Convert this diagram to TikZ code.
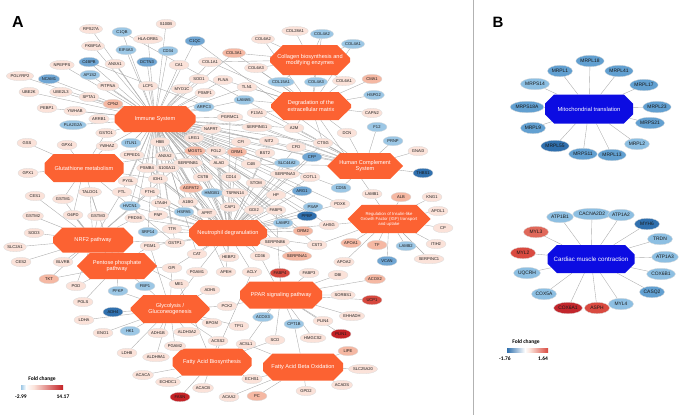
\documentclass[tikz,border=0pt]{standalone}
\usepackage{fontspec}
\setmainfont{Liberation Sans}
\newfontfamily\legendfont{Carlito}
\usetikzlibrary{positioning,shapes.geometric,shapes.misc,backgrounds}
\definecolor{fcpk}{RGB}{251,226,217}
\definecolor{fcsa}{RGB}{245,184,163}
\definecolor{fclb}{RGB}{156,199,229}
\definecolor{fcmb}{RGB}{112,166,211}
\definecolor{fcdb}{RGB}{48,112,174}
\definecolor{fcrd}{RGB}{214,72,62}
\definecolor{fcdr}{RGB}{196,34,38}
\definecolor{hubred}{RGB}{252,98,50}
\definecolor{hubblue}{RGB}{12,12,226}
\definecolor{bbl}{RGB}{141,191,226}
\definecolor{bmb}{RGB}{98,160,209}
\definecolor{bdb}{RGB}{48,112,174}
\definecolor{bsa}{RGB}{224,104,90}
\definecolor{brd}{RGB}{217,74,64}
\definecolor{bdr}{RGB}{194,38,44}

\begin{document}
\begin{tikzpicture}[x=1pt,y=-1pt,
    gene/.style={ellipse,draw=black!14,line width=0.3pt,inner sep=0.4pt,minimum width=20pt,minimum height=9.5pt,
                 font=\fontsize{4.1}{4.6}\selectfont,text=black!90},
    pk/.style={gene,fill=fcpk}, sa/.style={gene,fill=fcsa}, lb/.style={gene,fill=fclb},
    mb/.style={gene,fill=fcmb}, db/.style={gene,fill=fcdb}, rd/.style={gene,fill=fcrd}, dr/.style={gene,fill=fcdr},
    bgene/.style={ellipse,draw=black!14,line width=0.3pt,inner sep=0.5pt,minimum width=25pt,minimum height=11.5pt,
                 font=\fontsize{4.9}{5.5}\selectfont,text=black!90},
    hub/.style 2 args={chamfered rectangle,chamfered rectangle xsep=11pt,chamfered rectangle ysep=7pt,
                 minimum width=#1,minimum height=#2,inner sep=0pt,fill=hubred,text=white,align=center,
                 font=\fontsize{5.6}{6.4}\selectfont},
    link/.style={draw=gray!65,line width=0.38pt}
  ]
\useasboundingbox (0,0) rectangle (685,415);

% panel labels and divider
\node[font=\bfseries\fontsize{16}{16}\selectfont] (labA) at (18,22) {A};
\node[font=\bfseries\fontsize{15}{15}\selectfont] (labB) at (498,22) {B};
\draw[gray!60,line width=0.5pt] (473,0) -- (473,415);

% pathway hubs, panel A
\node[hub={81pt}{26pt}] (imm) at (155,119) {Immune System};
\node[hub={80pt}{30pt}] (col) at (310,60) {Collagen biosynthesis and\\modifying enzymes};
\node[hub={80pt}{28pt}] (ecm) at (311,106) {Degradation of the\\extracellular matrix};
\node[hub={76pt}{25pt}] (cmp) at (365,166) {Human Complement\\System};
\node[hub={83pt}{27pt},font=\fontsize{4.3}{5}\selectfont] (igf) at (389,219) {Regulation of Insulin-like\\Growth Factor (IGF) transport\\and uptake};
\node[hub={79pt}{28pt}] (glu) at (84,168) {Glutathione metabolism};
\node[hub={80pt}{25pt}] (nrf) at (93,240) {NRF2 pathway};
\node[hub={78pt}{26pt}] (neu) at (228,233) {Neutrophil degranulation};
\node[hub={80pt}{26pt}] (ppp) at (117,266) {Pentose phosphate\\pathway};
\node[hub={79pt}{28pt}] (gly) at (170,309) {Glycolysis /\\Gluconeogenesis};
\node[hub={82pt}{27pt}] (ppar) at (281,295) {PPAR signaling pathway};
\node[hub={79pt}{27pt}] (fab) at (212,362) {Fatty Acid Biosynthesis};
\node[hub={80pt}{27pt}] (fao) at (303,367) {Fatty Acid Beta Oxidation};

% genes, top left
\node[pk] (RPS27A) at (91,29) {RPS27A};
\node[lb] (C1QB) at (122,32) {C1QB};
\node[pk] (S100B) at (166,24) {S100B};
\node[pk] (HLADRB1) at (148,39) {HLA-DRB1};
\node[pk] (FKBP1A) at (93,46) {FKBP1A};
\node[lb] (EIF4A3) at (126,50) {EIF4A3};
\node[lb] (CD34) at (168,51) {CD34};
\node[mb] (C1QC) at (195,41) {C1QC};
\node[pk] (NPEPPS) at (62,65) {NPEPPS};
\node[mb] (C4BPB) at (89,62) {C4BPB};
\node[pk] (ANXA1) at (115,64) {ANXA1};
\node[mb] (DCTN3) at (147,62) {DCTN3};
\node[pk] (CA1) at (179,65) {CA1};
\node[pk] (PGLYRP2) at (20,76) {PGLYRP2};
\node[mb] (NCAM1) at (49,79) {NCAM1};
\node[lb] (AP1S2) at (90,75) {AP1S2};
\node[pk] (PITPNA) at (108,86) {PITPNA};
\node[pk] (LCP1) at (148,86) {LCP1};
\node[pk] (UBE2K) at (29,92) {UBE2K};
\node[pk] (UBE2L3) at (61,92) {UBE2L3};
\node[pk] (SPTA1) at (89,97) {SPTA1};
\node[sa] (CPN2) at (113,104) {CPN2};
\node[pk] (PEBP1) at (47,108) {PEBP1};
\node[pk] (YWHAB) at (75,111) {YWHAB};
\node[pk] (ARRB1) at (99,119) {ARRB1};
\node[lb] (PLA2G2A) at (73,125) {PLA2G2A};
\node[pk] (GSTO1) at (106,133) {GSTO1};

% genes, top middle
\node[pk] (COL6A2) at (263,39) {COL6A2};
\node[pk] (COL28A1) at (295,31) {COL28A1};
\node[lb] (COL4A2) at (322,34) {COL4A2};
\node[lb] (COL4A1) at (353,44) {COL4A1};
\node[sa] (COL3A1) at (234,53) {COL3A1};
\node[pk] (COL1A1) at (210,62) {COL1A1};
\node[pk] (COL6A3) at (256,68) {COL6A3};
\node[pk] (SOD1) at (199,79) {SOD1};
\node[pk] (FLNA) at (223,80) {FLNA};
\node[lb] (COL15A1) at (281,82) {COL15A1};
\node[lb] (COL4A3) at (316,82) {COL4A3};
\node[pk] (COL6A1) at (344,81) {COL6A1};
\node[sa] (CMA1) at (372,79) {CMA1};
\node[pk] (MYO1C) at (182,89) {MYO1C};
\node[pk] (PSMF1) at (205,93) {PSMF1};
\node[pk] (TLN1) at (247,87) {TLN1};
\node[lb] (HSPG2) at (374,95) {HSPG2};
\node[lb] (ARPC3) at (204,107) {ARPC3};
\node[lb] (LAMA5) at (244,100) {LAMA5};
\node[pk] (CAPN2) at (372,113) {CAPN2};
\node[pk] (PGRMC1) at (230,117) {PGRMC1};
\node[pk] (F13A1) at (257,113) {F13A1};
\node[pk] (SERPING1) at (257,127) {SERPING1};
\node[pk] (A2M) at (294,128) {A2M};
\node[pk] (NAPRT) at (211,129) {NAPRT};
\node[pk] (LRG1) at (194,138) {LRG1};
\node[pk] (DCN) at (347,133) {DCN};
\node[lb] (F12) at (377,127) {F12};
\node[lb] (PRNP) at (393,141) {PRNP};

% genes, right
\node[pk] (CTSG) at (323,143) {CTSG};
\node[pk] (GNAI3) at (418,151) {GNAI3};
\node[mb] (CFP) at (312,157) {CFP};
\node[db] (THBS1) at (423,173) {THBS1};
\node[pk] (COTL1) at (310,177) {COTL1};
\node[lb] (CD55) at (341,188) {CD55};
\node[pk] (LAMB1) at (372,194) {LAMB1};
\node[sa] (ALB) at (401,197) {ALB};
\node[pk] (KNG1) at (432,197) {KNG1};
\node[lb] (PSAP) at (313,207) {PSAP};
\node[pk] (PDXK) at (340,204) {PDXK};
\node[pk] (APOL1) at (438,211) {APOL1};
\node[db] (PPBP) at (307,216) {PPBP};
\node[pk] (AHSG) at (329,225) {AHSG};
\node[pk] (CP) at (443,228) {CP};
\node[sa] (ORM2) at (303,231) {ORM2};
\node[pk] (CST3) at (317,245) {CST3};
\node[sa] (APOA1) at (351,243) {APOA1};
\node[sa] (TF) at (377,245) {TF};
\node[lb] (LAMB2) at (406,246) {LAMB2};
\node[pk] (ITIH2) at (436,244) {ITIH2};
\node[pk] (APOA2) at (344,262) {APOA2};
\node[mb] (VCAN) at (387,261) {VCAN};
\node[pk] (SERPINC1) at (429,259) {SERPINC1};
\node[mb] (ARG1) at (302,191) {ARG1};
\node[lb] (SLC44A2) at (287,163) {SLC44A2};

% genes, centre
\node[pk] (HBB) at (160,142) {HBB};
\node[pk] (CFI) at (241,142) {CFI};
\node[pk] (NIT2) at (269,141) {NIT2};
\node[pk] (CFD) at (296,147) {CFD};
\node[sa] (MGST1) at (195,151) {MGST1};
\node[pk] (FGL2) at (216,151) {FGL2};
\node[sa] (ORM1) at (237,152) {ORM1};
\node[pk] (ANXA2) at (165,156) {ANXA2};
\node[pk] (BST2) at (265,153) {BST2};
\node[pk] (SERPINB1) at (188,163) {SERPINB1};
\node[pk] (S100A11) at (167,168) {S100A11};
\node[pk] (ALAD) at (219,163) {ALAD};
\node[pk] (C4B) at (251,164) {C4B};
\node[pk] (SERPINA3) at (285,174) {SERPINA3};
\node[pk] (IDH1) at (158,179) {IDH1};
\node[pk] (CSTB) at (203,177) {CSTB};
\node[pk] (CD14) at (231,177) {CD14};
\node[pk] (STOM) at (256,183) {STOM};
\node[sa] (AGPAT2) at (191,188) {AGPAT2};
\node[lb] (HMGB1) at (212,193) {HMGB1};
\node[pk] (TSPAN14) at (235,193) {TSPAN14};
\node[pk] (HP) at (276,195) {HP};
\node[pk] (A1BG) at (188,202) {A1BG};
\node[lb] (HSPA5) at (184,212) {HSPA5};
\node[pk] (APRT) at (207,213) {APRT};
\node[pk] (CAP1) at (230,207) {CAP1};
\node[pk] (GDI2) at (254,210) {GDI2};
\node[pk] (FABP5) at (276,210) {FABP5};
\node[lb] (LAMP2) at (283,223) {LAMP2};
\node[pk] (PNP) at (158,215) {PNP};
\node[pk] (TTR) at (172,229) {TTR};
\node[lb] (SRP14) at (148,232) {SRP14};
\node[pk] (GSTP1) at (175,243) {GSTP1};
\node[pk] (PGM1) at (150,246) {PGM1};
\node[pk] (SERPINB6) at (275,242) {SERPINB6};
\node[pk] (CAT) at (197,254) {CAT};
\node[pk] (HEBP2) at (229,257) {HEBP2};
\node[pk] (CD36) at (260,256) {CD36};
\node[sa] (SERPINA1) at (297,256) {SERPINA1};
\node[pk] (GPI) at (172,268) {GPI};
\node[pk] (PGAM1) at (197,272) {PGAM1};
\node[pk] (ME1) at (179,284) {ME1};
\node[pk] (APEH) at (226,272) {APEH};
\node[pk] (ACLY) at (252,272) {ACLY};
\node[rd] (FABP4) at (280,273) {FABP4};
\node[pk] (FABP3) at (309,273) {FABP3};
\node[pk] (DBI) at (338,275) {DBI};
\node[sa] (ACOX2) at (375,279) {ACOX2};

% genes, left
\node[pk] (GSS) at (27,143) {GSS};
\node[pk] (GPX4) at (67,145) {GPX4};
\node[pk] (YWHAZ) at (107,146) {YWHAZ};
\node[lb] (ITLN1) at (131,143) {ITLN1};
\node[pk] (CPPED1) at (132,155) {CPPED1};
\node[pk] (PSMB4) at (147,168) {PSMB4};
\node[pk] (GPX1) at (28,173) {GPX1};
\node[pk] (PYGL) at (128,181) {PYGL};
\node[pk] (CES1) at (35,196) {CES1};
\node[pk] (GSTM1) at (63,199) {GSTM1};
\node[pk] (TALDO1) at (90,192) {TALDO1};
\node[pk] (FTL) at (122,192) {FTL};
\node[pk] (FTH1) at (150,192) {FTH1};
\node[pk] (LTA4H) at (161,203) {LTA4H};
\node[pk] (GSTM2) at (33,216) {GSTM2};
\node[pk] (G6PD) at (73,215) {G6PD};
\node[pk] (GSTM3) at (98,216) {GSTM3};
\node[lb] (HVCN1) at (130,206) {HVCN1};
\node[pk] (PRDX6) at (135,218) {PRDX6};
\node[pk] (SOD3) at (34,233) {SOD3};
\node[pk] (SLC2A1) at (15,247) {SLC2A1};
\node[pk] (CES2) at (21,262) {CES2};
\node[pk] (BLVRB) at (63,262) {BLVRB};

% genes, bottom
\node[sa] (TKT) at (49,279) {TKT};
\node[pk] (PGD) at (76,286) {PGD};
\node[lb] (PFKP) at (118,291) {PFKP};
\node[lb] (FBP1) at (145,286) {FBP1};
\node[pk] (PGLS) at (83,302) {PGLS};
\node[db] (ADH4) at (113,312) {ADH4};
\node[pk] (LDHA) at (84,320) {LDHA};
\node[pk] (ENO1) at (103,333) {ENO1};
\node[lb] (HK1) at (130,331) {HK1};
\node[pk] (LDHB) at (127,353) {LDHB};
\node[pk] (ADH1B) at (158,333) {ADH1B};
\node[pk] (ALDH3A2) at (187,332) {ALDH3A2};
\node[pk] (PGAM2) at (175,346) {PGAM2};
\node[pk] (ALDH9A1) at (156,357) {ALDH9A1};
\node[pk] (ADH5) at (210,290) {ADH5};
\node[pk] (PCK2) at (227,306) {PCK2};
\node[pk] (BPGM) at (212,323) {BPGM};
\node[pk] (TPI1) at (239,326) {TPI1};
\node[lb] (ACOX3) at (263,317) {ACOX3};
\node[lb] (CPT1B) at (294,324) {CPT1B};
\node[pk] (SORBS1) at (343,295) {SORBS1};
\node[rd] (UCP1) at (372,300) {UCP1};
\node[pk] (EHHADH) at (352,316) {EHHADH};
\node[pk] (PLIN4) at (323,321) {PLIN4};
\node[dr] (PLIN1) at (341,334) {PLIN1};
\node[pk] (HMGCS2) at (313,338) {HMGCS2};
\node[pk] (ACSS2) at (218,341) {ACSS2};
\node[pk] (ACSL1) at (246,344) {ACSL1};
\node[pk] (SCD) at (275,340) {SCD};
\node[sa] (LIPE) at (348,351) {LIPE};
\node[pk] (SLC25A20) at (363,369) {SLC25A20};
\node[pk] (ACACA) at (143,375) {ACACA};
\node[pk] (ECHDC1) at (168,382) {ECHDC1};
\node[pk] (ACACB) at (203,388) {ACACB};
\node[pk] (ECHS1) at (252,379) {ECHS1};
\node[pk] (ACADS) at (342,385) {ACADS};
\node[pk] (GPD2) at (306,391) {GPD2};
\node[dr] (FASN) at (180,397) {FASN};
\node[pk] (ACAA2) at (229,397) {ACAA2};
\node[sa] (PC) at (257,396) {PC};

% legend A
\node[font=\legendfont\bfseries\fontsize{5.5}{6}\selectfont] (fcA) at (42,379) {Fold change};
\shade[left color=fclb,right color=white] (21,385) rectangle (26,389);
\shade[left color=white,right color=fcpk] (26,385) rectangle (34,389);
\shade[left color=fcpk,right color=fcdr] (34,385) rectangle (63,389);
\node[font=\legendfont\bfseries\fontsize{5.5}{6}\selectfont] (minA) at (21,397) {-2.99};
\node[font=\legendfont\bfseries\fontsize{5.5}{6}\selectfont] (maxA) at (63,397) {14.17};

% panel B
\node[hub={88pt}{29pt},fill=hubblue,font=\fontsize{5.8}{6.4}\selectfont] (mito) at (589,109) {Mitochondrial translation};
\node[bgene,fill=bmb] (MRPL18) at (590,61) {MRPL18};
\node[bgene,fill=bmb] (MRPL1) at (560,71) {MRPL1};
\node[bgene,fill=bmb] (MRPL41) at (619,71) {MRPL41};
\node[bgene,fill=bbl] (MRPS14) at (535,84) {MRPS14};
\node[bgene,fill=bmb] (MRPL17) at (644,85) {MRPL17};
\node[bgene,fill=bmb] (MRPS18A) at (527,107) {MRPS18A};
\node[bgene,fill=bmb] (MRPL23) at (657,107) {MRPL23};
\node[bgene,fill=bmb] (MRPL9) at (533,128) {MRPL9};
\node[bgene,fill=bmb] (MRPS21) at (650,123) {MRPS21};
\node[bgene,fill=bdb] (MRPL55) at (555,146) {MRPL55};
\node[bgene,fill=bbl] (MRPL2) at (637,144) {MRPL2};
\node[bgene,fill=bmb] (MRPS11) at (583,154) {MRPS11};
\node[bgene,fill=bmb] (MRPL13) at (612,155) {MRPL13};

\node[hub={87pt}{28pt},fill=hubblue,font=\fontsize{6.2}{7}\selectfont] (card) at (591,259) {Cardiac muscle contraction};
\node[bgene,fill=bbl] (ATP1B1) at (560,217) {ATP1B1};
\node[bgene,fill=bbl] (CACNA2D2) at (592,214) {CACNA2D2};
\node[bgene,fill=bbl] (ATP1A2) at (621,215) {ATP1A2};
\node[bgene,fill=bdb] (MYH6) at (647,224) {MYH6};
\node[bgene,fill=bsa] (MYL3) at (536,232) {MYL3};
\node[bgene,fill=bbl] (TRDN) at (660,239) {TRDN};
\node[bgene,fill=brd] (MYL2) at (523,253) {MYL2};
\node[bgene,fill=bbl] (ATP1A3) at (665,257) {ATP1A3};
\node[bgene,fill=bbl] (UQCRH) at (527,273) {UQCRH};
\node[bgene,fill=bbl] (COX6B1) at (661,274) {COX6B1};
\node[bgene,fill=bbl] (COX5A) at (544,294) {COX5A};
\node[bgene,fill=bmb] (CASQ2) at (652,292) {CASQ2};
\node[bgene,fill=bdr] (COX6A1) at (568,308) {COX6A1};
\node[bgene,fill=brd] (ASPH) at (597,308) {ASPH};
\node[bgene,fill=bbl] (MYL4) at (621,304) {MYL4};

% legend B
\node[font=\legendfont\bfseries\fontsize{5.5}{6}\selectfont] (fcB) at (526,342) {Fold change};
\shade[left color=bdb,right color=white] (507,348) rectangle (525,352);
\shade[left color=white,right color=fcpk] (525,348) rectangle (530,352);
\shade[left color=fcpk,right color=brd] (530,348) rectangle (548,352);
\node[font=\legendfont\bfseries\fontsize{5.5}{6}\selectfont] (minB) at (505,359) {-1.76};
\node[font=\legendfont\bfseries\fontsize{5.5}{6}\selectfont] (maxB) at (543,359) {1.64};

% connectors
\begin{scope}[on background layer,every edge/.style={link}]
  \foreach \g in {RPS27A,C1QB,S100B,HLADRB1,FKBP1A,EIF4A3,CD34,C1QC,NPEPPS,C4BPB,ANXA1,DCTN3,CA1,
      PGLYRP2,NCAM1,AP1S2,PITPNA,LCP1,UBE2K,UBE2L3,SPTA1,CPN2,PEBP1,YWHAB,ARRB1,PLA2G2A,GSTO1,
      COL1A1,COL3A1,SOD1,FLNA,MYO1C,PSMF1,ARPC3,LAMA5,TLN1,PGRMC1,NAPRT,LRG1,SERPING1,A2M,YWHAZ,
      ITLN1,CPPED1,PSMB4,HBB,ANXA2,S100A11,SERPINB1,MGST1,FGL2,ORM1,ALAD,CFI,NIT2,CFD,BST2,C4B,
      SERPINA3,CSTB,CD14,STOM,HP,IDH1,PYGL,FTL,FTH1,LTA4H,AGPAT2,HMGB1,TSPAN14,A1BG,HSPA5,APRT,
      CAP1,GDI2,FABP5,ARG1,SLC44A2,CFP,CTSG,COTL1,PSAP,PPBP,LAMP2,PNP,TTR,SRP14,GSTP1,PRDX6,
      HVCN1,ORM2,SERPINB6,CST3,CAT,HEBP2,CD36,SERPINA1,APEH,AHSG,PDXK,CD55}
    \path (imm) edge (\g);
  \foreach \g in {HBB,LRG1,NAPRT,PGRMC1,ANXA2,S100A11,SERPINB1,MGST1,FGL2,ORM1,ALAD,CFD,NIT2,BST2,
      STOM,SERPINA3,HP,CSTB,CD14,IDH1,PYGL,FTL,FTH1,LTA4H,AGPAT2,HMGB1,TSPAN14,A1BG,HSPA5,APRT,
      CAP1,GDI2,FABP5,ARG1,SLC44A2,CFP,CTSG,COTL1,PSAP,PPBP,LAMP2,PNP,TTR,SRP14,GSTP1,PRDX6,
      HVCN1,ORM2,SERPINB6,CST3,CAT,HEBP2,CD36,SERPINA1,GPI,PGAM1,APEH,PGM1,AHSG,PDXK,CPPED1,
      PSMB4,ACLY}
    \path (neu) edge (\g);
  \foreach \g in {C1QB,C1QC,C4BPB,CPN2,F13A1,SERPING1,A2M,F12,CFD,CFI,C4B,CFP,CD55,PRNP,GNAI3,
      THBS1,CTSG,DCN}
    \path (cmp) edge (\g);
  \foreach \g in {COL6A2,COL28A1,COL4A2,COL4A1,COL3A1,COL1A1,COL6A3,COL15A1,COL4A3,COL6A1}
    \path (col) edge (\g);
  \foreach \g in {COL4A3,COL6A1,CMA1,HSPG2,CAPN2,DCN,A2M,COL15A1,COL6A3,COL6A2,LAMA5,TLN1,
      COL3A1,COL1A1,COL4A1,COL4A2,CTSG,LAMB1,FLNA,F13A1}
    \path (ecm) edge (\g);
  \foreach \g in {ALB,KNG1,APOL1,CP,ITIH2,SERPINC1,VCAN,LAMB2,LAMB1,TF,APOA1,APOA2,AHSG,CST3}
    \path (igf) edge (\g);
  \foreach \g in {GSS,GPX4,GPX1,GSTO1,GSTM1,GSTM3,G6PD,IDH1,MGST1,GSTP1,YWHAZ}
    \path (glu) edge (\g);
  \foreach \g in {CES1,CES2,GSTM1,GSTM2,GSTM3,G6PD,TALDO1,FTL,FTH1,SOD3,SLC2A1,BLVRB,PGD,TKT,
      PRDX6,GSTP1,ME1,MGST1}
    \path (nrf) edge (\g);
  \foreach \g in {TKT,PGD,PGLS,G6PD,TALDO1,PFKP,FBP1,PGM1,GPI}
    \path (ppp) edge (\g);
  \foreach \g in {PFKP,FBP1,ADH4,LDHA,ENO1,HK1,LDHB,ADH1B,ALDH9A1,ALDH3A2,PGAM2,BPGM,TPI1,PCK2,
      ADH5,GPI,PGAM1,PGM1,ACSS2}
    \path (gly) edge (\g);
  \foreach \g in {FABP4,FABP3,ACOX2,DBI,SORBS1,UCP1,EHHADH,PLIN4,PLIN1,CPT1B,HMGCS2,SCD,ACSL1,
      ACOX3,PCK2,CD36,FABP5}
    \path (ppar) edge (\g);
  \foreach \g in {ACACA,ECHDC1,FASN,ACACB,ACSS2,ACSL1,ACLY,ME1,SCD,ECHS1}
    \path (fab) edge (\g);
  \foreach \g in {ACADS,SLC25A20,LIPE,GPD2,ECHS1,ACAA2,PC,ACSL1,CPT1B}
    \path (fao) edge (\g);
  \foreach \g in {MRPL18,MRPL1,MRPL41,MRPS14,MRPL17,MRPS18A,MRPL23,MRPL9,MRPS21,MRPL55,MRPL2,
      MRPS11,MRPL13}
    \path (mito) edge (\g);
  \foreach \g in {ATP1B1,CACNA2D2,ATP1A2,MYH6,MYL3,TRDN,MYL2,ATP1A3,UQCRH,COX6B1,COX5A,CASQ2,
      COX6A1,ASPH,MYL4}
    \path (card) edge (\g);
\end{scope}
\end{tikzpicture}
\end{document}
